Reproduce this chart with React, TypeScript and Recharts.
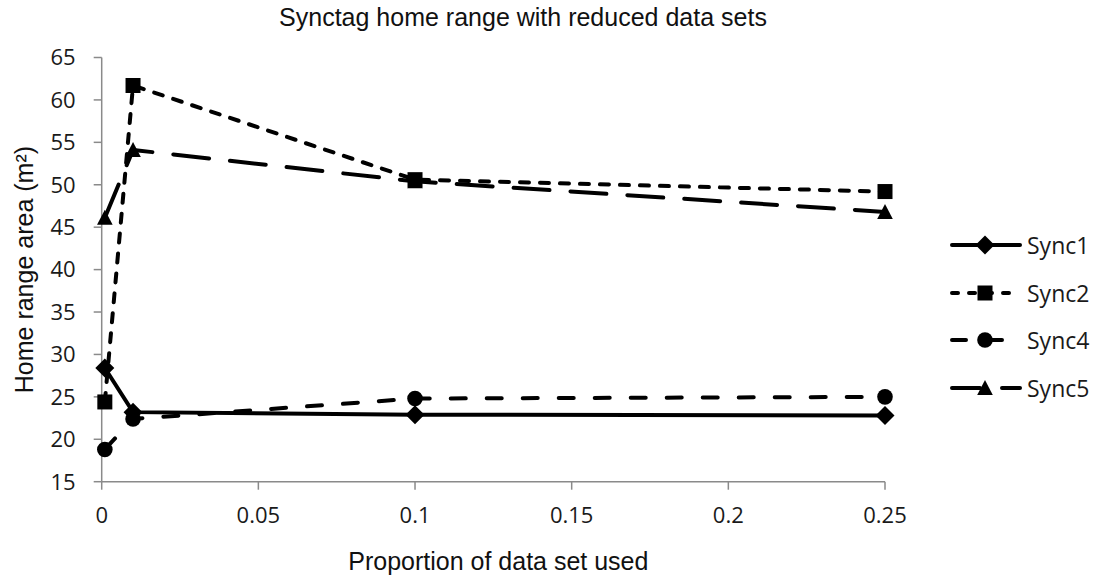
import React from "react";
import { LineChart, Line, XAxis, YAxis } from "recharts";

const proportions = [0.001, 0.01, 0.1, 0.25];
const sync1 = [28.4, 23.2, 22.9, 22.8];
const sync2 = [24.4, 61.7, 50.6, 49.2];
const sync4 = [18.8, 22.4, 24.8, 25.0];
const sync5 = [46.1, 54.1, 50.4, 46.8];
const xTicks = [0, 0.05, 0.1, 0.15, 0.2, 0.25];
const yTicks = [15, 20, 25, 30, 35, 40, 45, 50, 55, 60, 65];

const data = proportions.map((p, i) => ({
  p,
  Sync1: sync1[i],
  Sync2: sync2[i],
  Sync4: sync4[i],
  Sync5: sync5[i],
}));

const TICK_FONT = "'Open Sans', 'DejaVu Sans', sans-serif";
const LABEL_FONT = "'Liberation Sans', Arial, sans-serif";

type Shape = "diamond" | "square" | "circle" | "triangle";

const marker = (shape: Shape, cx: number, cy: number, key?: any) => {
  if (shape === "diamond")
    return <path key={key} d={`M${cx},${cy - 9.5} L${cx + 9.5},${cy} L${cx},${cy + 9.5} L${cx - 9.5},${cy} Z`} fill="#000" />;
  if (shape === "square")
    return <rect key={key} x={cx - 7.5} y={cy - 7.5} width={15} height={15} fill="#000" />;
  if (shape === "circle") return <circle key={key} cx={cx} cy={cy} r={7.8} fill="#000" />;
  return <path key={key} d={`M${cx},${cy - 8} L${cx + 7.8},${cy + 7} L${cx - 7.8},${cy + 7} Z`} fill="#000" />;
};

const makeDot = (shape: Shape) => (props: any) => {
  const { cx, cy, index } = props;
  if (cx == null || cy == null) return <g key={index} />;
  return marker(shape, cx, cy, index);
};

const series: { key: string; shape: Shape; dash?: string }[] = [
  { key: "Sync1", shape: "diamond" },
  { key: "Sync2", shape: "square", dash: "9 11" },
  { key: "Sync4", shape: "circle", dash: "15 21" },
  { key: "Sync5", shape: "triangle", dash: "36 21" },
];

const legendDash: Record<string, string | undefined> = {
  Sync1: undefined,
  Sync2: "6 11",
  Sync4: "14 22",
  Sync5: "28 22",
};

const LegendBox = () => (
  <div style={{ position: "absolute", left: 946, top: 221, fontFamily: TICK_FONT }}>
    {series.map((s) => (
      <div key={s.key} style={{ display: "flex", alignItems: "center", height: 47.7 }}>
        <svg width={78} height={24}>
          <line
            x1={6}
            y1={12}
            x2={74}
            y2={12}
            stroke="#000"
            strokeWidth={4}
            strokeLinecap="round"
            strokeDasharray={legendDash[s.key]}
          />
          {marker(s.shape, 39, 12)}
        </svg>
        <span style={{ fontSize: 23, marginLeft: 3, color: "#1a1a1a", lineHeight: "24px" }}>{s.key}</span>
      </div>
    ))}
  </div>
);

export default function App() {
  return (
    <div style={{ position: "absolute", left: 0, top: 0, width: 1094, height: 578, background: "#fff" }}>
      <div
        style={{
          position: "absolute",
          top: 3,
          left: 0,
          width: 1046,
          textAlign: "center",
          fontFamily: LABEL_FONT,
          fontSize: 25,
          color: "#111",
          whiteSpace: "nowrap",
        }}
      >
        Synctag home range with reduced data sets
      </div>
      <LineChart width={1094} height={578} data={data} margin={{ top: 57.5, right: 209, bottom: 0, left: 0 }}>
        <XAxis
          dataKey="p"
          type="number"
          domain={[0, 0.25]}
          ticks={xTicks}
          interval={0}
          tickFormatter={(v: number) => String(v)}
          height={96.3}
          stroke="#8a8a8a"
          strokeWidth={1.5}
          tickSize={8}
          tickMargin={18}
          tick={{ fill: "#1a1a1a", fontSize: 22, fontFamily: TICK_FONT }}
          label={{
            value: "Proportion of data set used",
            position: "insideBottom",
            offset: 8,
            dx: 5,
            fill: "#111",
            fontSize: 25,
            fontFamily: LABEL_FONT,
          }}
        />
        <YAxis
          type="number"
          domain={[15, 65]}
          ticks={yTicks}
          interval={0}
          width={101.7}
          stroke="#8a8a8a"
          strokeWidth={1.5}
          tickSize={8}
          tickMargin={18}
          tick={{ fill: "#1a1a1a", fontSize: 22, fontFamily: TICK_FONT }}
          label={{
            value: "Home range area (m²)",
            angle: -90,
            position: "insideLeft",
            offset: 24,
            style: { textAnchor: "middle" },
            fill: "#111",
            fontSize: 25,
            fontFamily: LABEL_FONT,
          }}
        />
        {series.map((s) => (
          <Line
            key={s.key}
            dataKey={s.key}
            stroke="#000"
            strokeWidth={4}
            strokeLinecap="round"
            strokeDasharray={s.dash}
            dot={makeDot(s.shape)}
            activeDot={false}
            isAnimationActive={false}
            type="linear"
          />
        ))}
      </LineChart>
      <LegendBox />
    </div>
  );
}
